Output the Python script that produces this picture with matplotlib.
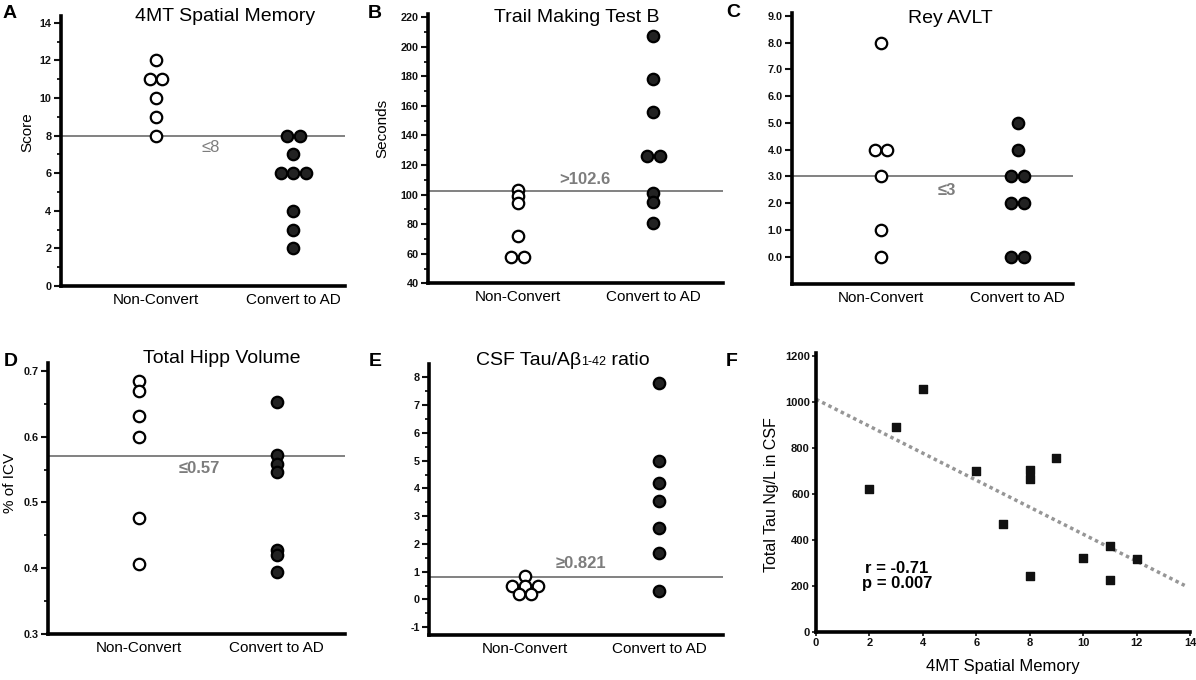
import numpy as np
import matplotlib.pyplot as plt

plt.rcParams['font.family'] = ['Liberation Sans', 'DejaVu Sans']
plt.rcParams['axes.unicode_minus'] = False

W, H = 1196, 680

groups = ['Non-Convert', 'Convert to AD']

# A - 4MT spatial memory score
fourmt_non = [12, 11, 11, 10, 9, 8]
fourmt_conv = [8, 8, 7, 6, 6, 6, 4, 3, 2]
fourmt_cut = 8

# B - trail making test B (seconds)
tmt_non = [103, 99, 94, 72, 58, 58]
tmt_conv = [207, 178, 156, 126, 126, 101, 95, 81]
tmt_cut = 102.6

# C - Rey AVLT
avlt_non = [8, 4, 4, 3, 1, 0]
avlt_conv = [5, 4, 3, 3, 2, 2, 0, 0]
avlt_cut = 3

# D - total hippocampal volume (% of ICV)
hipp_non = [0.685, 0.669, 0.631, 0.599, 0.477, 0.406]
hipp_conv = [0.652, 0.572, 0.559, 0.547, 0.427, 0.420, 0.394]
hipp_cut = 0.57

# E - CSF tau / abeta ratio
csf_non = [0.85, 0.5, 0.5, 0.5, 0.2, 0.2]
csf_conv = [7.8, 4.97, 4.21, 3.53, 2.57, 1.69, 0.29]
csf_cut = 0.821

# F - 4MT score vs total tau
mem_score = [2, 3, 4, 6, 7, 8, 8, 8, 9, 10, 11, 11, 12]
total_tau = [620, 890, 1057, 701, 469, 705, 665, 242, 755, 322, 373, 224, 316]
corr_text = 'r = -0.71\np = 0.007'

GRAY = '#7d7d7d'


def px_box(left, top, right, bottom):
    return [left / W, 1 - bottom / H, (right - left) / W, (bottom - top) / H]


def ftext(x, y, s, **kw):
    # place text using pixel coords of the picture
    return fig.text(x / W, 1 - y / H, s, **kw)


def tie_offsets(vals, step):
    # spread equal values side by side, centred on the group
    vals = np.asarray(vals, float)
    offs = np.zeros(len(vals))
    for v in np.unique(vals):
        idx = np.where(vals == v)[0]
        offs[idx] = (np.arange(len(idx)) - (len(idx) - 1) / 2) * step
    return offs


def style_axes(ax):
    for side in ['top', 'right']:
        ax.spines[side].set_visible(False)
    for side in ['left', 'bottom']:
        ax.spines[side].set_linewidth(2.6)
    ax.tick_params(axis='both', which='major', length=5, width=1.5,
                   labelsize=7.8, pad=2, colors='#111111')
    ax.tick_params(axis='y', which='minor', length=3, width=1.2)
    for lab in ax.get_yticklabels() + ax.get_xticklabels():
        lab.set_fontweight('bold')


def dot_panel(box, non, conv, cut, xlim, ylim, ticks, minors, fmt,
              cut_text, cut_xfrac, cut_dy, cut_weight='bold'):
    ax = fig.add_axes(px_box(*box))
    ax.set_xlim(xlim)
    ax.set_ylim(ylim)
    step = 12.6 / ((box[2] - box[0]) / (xlim[1] - xlim[0]))
    for i, (vals, face) in enumerate([(non, 'white'), (conv, '#222222')]):
        xs = i + 1 + tie_offsets(vals, step)
        ax.scatter(xs, vals, s=68, facecolor=face, edgecolor='black',
                   linewidth=1.6, zorder=3, clip_on=False)
    ax.axhline(cut, color='#777777', lw=1.3, zorder=1)
    ax.annotate(cut_text, xy=(cut_xfrac, cut), xycoords=('axes fraction', 'data'),
                xytext=(0, cut_dy), textcoords='offset points',
                ha='center', va='center', fontsize=12, color=GRAY,
                fontweight=cut_weight)
    ax.set_yticks(ticks)
    if minors is not None:
        ax.set_yticks(minors, minor=True)
    ax.set_yticklabels([fmt % t for t in ticks])
    ax.set_xticks([1, 2], groups)
    style_axes(ax)
    ax.tick_params(axis='x', length=0, labelsize=11, pad=5, colors='black')
    for lab in ax.get_xticklabels():
        lab.set_fontweight('normal')
    return ax


fig = plt.figure(figsize=(W / 100, H / 100), dpi=100)

# A
dot_panel((61, 16, 345, 286), fourmt_non, fourmt_conv, fourmt_cut,
          (0.308, 2.376), (0, 14.36), np.arange(0, 15, 2), np.arange(1, 14, 2),
          '%d', '≤8', 0.528, -8.4, cut_weight='normal')
# B
dot_panel((428.3, 14, 723, 283.3), tmt_non, tmt_conv, tmt_cut,
          (0.341, 2.512), (40, 222.2), np.arange(40, 221, 20), np.arange(50, 220, 20),
          '%d', '>102.6', 0.532, 8.2)
# C
dot_panel((792.3, 13.3, 1073, 284), avlt_non, avlt_conv, avlt_cut,
          (0.351, 2.405), (-1.02, 9.1), np.arange(0, 10), None,
          '%.1f', '≤3', 0.551, -10.4)
# D
dot_panel((48.3, 363, 345, 634), hipp_non, hipp_conv, hipp_cut,
          (0.340, 2.497), (0.3, 0.712), [0.3, 0.4, 0.5, 0.6, 0.7],
          [0.35, 0.45, 0.55, 0.65], '%.1f', '≤0.57', 0.508, -8.8)
# E
dot_panel((429.3, 364, 723, 635), csf_non, csf_conv, csf_cut,
          (0.287, 2.474), (-1.28, 8.48), np.arange(-1, 9), np.arange(-0.5, 8, 1),
          '%d', '≥0.821', 0.518, 9.4)

# F - scatter with regression line
axf = fig.add_axes(px_box(816, 353, 1190, 631.7))
axf.set_xlim(0, 14)
axf.set_ylim(0, 1213)
axf.scatter(mem_score, total_tau, marker='s', s=30, color='#111111', zorder=3)
slope, intercept = np.polyfit(mem_score, total_tau, 1)
fit_x = np.array([0, 13.8])
axf.plot(fit_x, intercept + slope * fit_x, color='#969696', lw=2.5,
         linestyle=(0, (1, 1)), zorder=2)
axf.set_xticks(np.arange(0, 15, 2))
axf.set_yticks(np.arange(0, 1201, 200))
style_axes(axf)
axf.tick_params(axis='both', which='major', length=3, width=1.2, pad=1.5, labelsize=8)
axf.text(0.2166, 0.2, corr_text, transform=axf.transAxes, ha='center', va='center',
         fontsize=12, fontweight='bold', linespacing=1.05)

# titles
ftext(224.7, 20.7, '4MT Spatial Memory', fontsize=14, ha='center', va='baseline')
ftext(576.7, 21.7, 'Trail Making Test B', fontsize=14, ha='center', va='baseline')
ftext(950, 22.7, 'Rey AVLT', fontsize=14, ha='center', va='baseline')
ftext(221.3, 363.3, 'Total Hipp Volume', fontsize=14, ha='center', va='baseline')

renderer = fig.canvas.get_renderer()
t1 = ftext(476, 365, 'CSF Tau/Aβ', fontsize=14, ha='left', va='baseline')
bb = t1.get_window_extent(renderer)
t2 = ftext(bb.x1, 365, '1-42', fontsize=9, ha='left', va='baseline')
bb = t2.get_window_extent(renderer)
ftext(bb.x1, 365, ' ratio', fontsize=14, ha='left', va='baseline')

# panel letters
for letter, x, y in [('A', 3, 18.5), ('B', 368, 18.5), ('C', 726, 17),
                     ('D', 4, 365.5), ('E', 369, 365.5), ('F', 726, 365.5)]:
    ftext(x, y, letter, fontsize=14, fontweight='bold', ha='left', va='baseline')

# axis labels
ftext(27.5, 132.5, 'Score', fontsize=11, rotation=90, ha='center', va='center')
ftext(382, 128, 'Seconds', fontsize=11, rotation=90, ha='center', va='center')
ftext(10, 483, '% of ICV', fontsize=11, rotation=90, ha='center', va='center')
ftext(771.7, 495, 'Total Tau Ng/L in CSF', fontsize=11.5, rotation=90,
      ha='center', va='center')
ftext(1003, 667, '4MT Spatial Memory', fontsize=12, ha='center', va='center')

fig.savefig('out.png', dpi=100)
